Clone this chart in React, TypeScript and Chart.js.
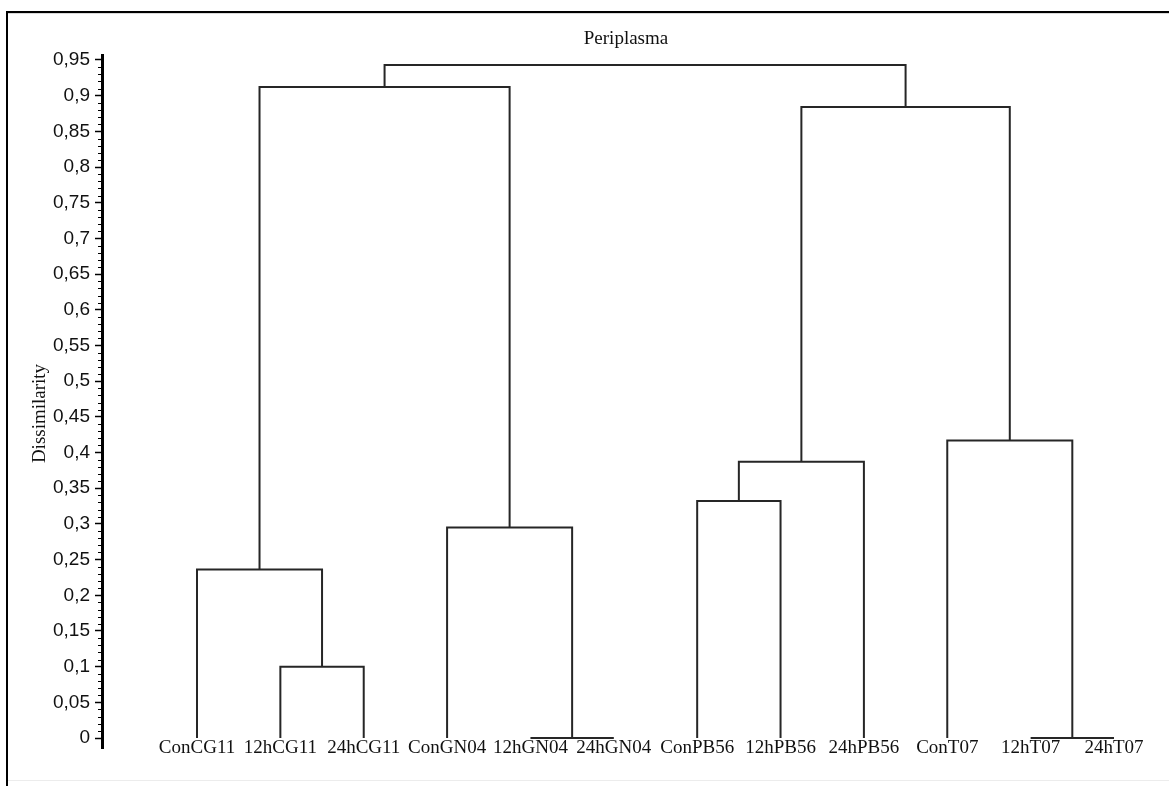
import React, { useEffect, useRef } from 'react';
import { Chart, registerables } from 'chart.js';

Chart.register(...registerables);

const chartTitle = 'Periplasma';
const yAxisTitle = 'Dissimilarity';

const leafLabels = ['ConCG11', '12hCG11', '24hCG11', 'ConGN04', '12hGN04', '24hGN04', 'ConPB56', '12hPB56', '24hPB56', 'ConT07', '12hT07', '24hT07'];

// Agglomeration steps: ids 0-11 are leaves, id 12 + k is the cluster made at step k
const mergeLeft = [1, 4, 10, 6, 0, 3, 15, 9, 16, 18, 20];
const mergeRight = [2, 5, 11, 7, 12, 13, 8, 14, 17, 19, 21];
const mergeHeight = [0.1, 0, 0, 0.332, 0.236, 0.295, 0.387, 0.417, 0.912, 0.884, 0.943];

const yTickValues = [0, 0.05, 0.1, 0.15, 0.2, 0.25, 0.3, 0.35, 0.4, 0.45, 0.5, 0.55, 0.6, 0.65, 0.7, 0.75, 0.8, 0.85, 0.9, 0.95];
const yTickLabels = ['0', '0,05', '0,1', '0,15', '0,2', '0,25', '0,3', '0,35', '0,4', '0,45', '0,5', '0,55', '0,6', '0,65', '0,7', '0,75', '0,8', '0,85', '0,9', '0,95'];

const W = 1169;
const H = 786;
const LINE = '#262626';

function buildSegments() {
  const pos: number[] = leafLabels.map((_, i) => i);
  const hgt: number[] = leafLabels.map(() => 0);
  const segs: { x: number; y: number }[][] = [];
  mergeLeft.forEach((a, k) => {
    const b = mergeRight[k];
    const h = mergeHeight[k];
    segs.push([
      { x: pos[a], y: hgt[a] },
      { x: pos[a], y: h },
      { x: pos[b], y: h },
      { x: pos[b], y: hgt[b] },
    ]);
    pos.push((pos[a] + pos[b]) / 2);
    hgt.push(h);
  });
  return segs;
}

const decorPlugin = {
  id: 'decor',
  beforeDraw(chart: any) {
    const ctx = chart.ctx;
    ctx.save();
    ctx.fillStyle = '#ffffff';
    ctx.fillRect(0, 0, W, H);
    ctx.fillStyle = '#000';
    ctx.fillRect(6, 11, W - 6, 2);
    ctx.fillRect(6, 11, 2, H - 11);
    ctx.fillStyle = '#d8d8d8';
    ctx.fillRect(8, 13, W - 8, 1);
    ctx.fillStyle = '#ececec';
    ctx.fillRect(8, 780, W - 8, 1);
    ctx.restore();
  },
  afterDraw(chart: any) {
    const ctx = chart.ctx;
    const xs = chart.scales.x;
    const ys = chart.scales.y;
    const area = chart.chartArea;
    ctx.save();
    // minor ticks
    ctx.strokeStyle = '#000';
    ctx.lineWidth = 1;
    for (let i = 0; i < yTickValues.length - 1; i++) {
      const a = yTickValues[i];
      const b = yTickValues[i + 1];
      for (let k = 1; k < 5; k++) {
        const py = Math.round(ys.getPixelForValue(a + ((b - a) * k) / 5)) + 0.5;
        ctx.beginPath();
        ctx.moveTo(area.left - 4, py);
        ctx.lineTo(area.left, py);
        ctx.stroke();
      }
    }
    ctx.fillStyle = '#111';
    ctx.font = '19px "Liberation Serif", serif';
    ctx.textAlign = 'center';
    ctx.textBaseline = 'middle';
    // chart title
    ctx.fillText(chartTitle, (area.left + area.right) / 2 + 5, 39);
    // leaf labels
    const y0 = ys.getPixelForValue(0);
    leafLabels.forEach((lab, i) => {
      ctx.fillText(lab, xs.getPixelForValue(i), y0 + 10);
    });
    // y axis title
    ctx.save();
    ctx.translate(40, (area.top + area.bottom) / 2 + 12);
    ctx.rotate(-Math.PI / 2);
    ctx.fillText(yAxisTitle, 0, 0);
    ctx.restore();
    ctx.restore();
  },
};

export default function App() {
  const ref = useRef<HTMLCanvasElement | null>(null);
  useEffect(() => {
    if (!ref.current) return;
    const segs = buildSegments();
    const chart = new Chart(ref.current, {
      type: 'line',
      data: {
        datasets: segs.map((s) => ({
          data: s,
          borderColor: LINE,
          borderWidth: 2,
          pointRadius: 0,
          tension: 0,
          fill: false,
        })),
      },
      options: {
        animation: false,
        responsive: false,
        events: [],
        layout: { padding: { left: 0, top: 55, right: 29, bottom: 38 } },
        plugins: { legend: { display: false }, tooltip: { enabled: false }, title: { display: false } },
        scales: {
          x: {
            type: 'linear',
            display: false,
            min: -1.1396,
            max: 11.312,
          },
          y: {
            type: 'linear',
            min: -0.014,
            max: 0.957,
            afterFit: (s: any) => {
              s.width = 102;
            },
            afterBuildTicks: (s: any) => {
              s.ticks = yTickValues.map((v) => ({ value: v }));
            },
            ticks: {
              autoSkip: false,
              padding: 5,
              color: '#111',
              font: { family: '"Liberation Sans", Arial, sans-serif', size: 19 },
              callback: (v: any) => {
                const i = yTickValues.findIndex((t) => Math.abs(t - Number(v)) < 1e-6);
                return i >= 0 ? yTickLabels[i] : '';
              },
            },
            grid: {
              display: true,
              drawOnChartArea: false,
              drawTicks: true,
              tickLength: 7,
              tickWidth: 1.5,
              tickColor: '#000',
            },
            border: { display: true, color: '#000', width: 3 },
            title: { display: false },
          },
        },
      },
      plugins: [decorPlugin],
    });
    return () => chart.destroy();
  }, []);
  return (
    <canvas
      ref={ref}
      width={W}
      height={H}
      style={{ position: 'fixed', left: 0, top: 0, display: 'block', width: W, height: H }}
    />
  );
}
